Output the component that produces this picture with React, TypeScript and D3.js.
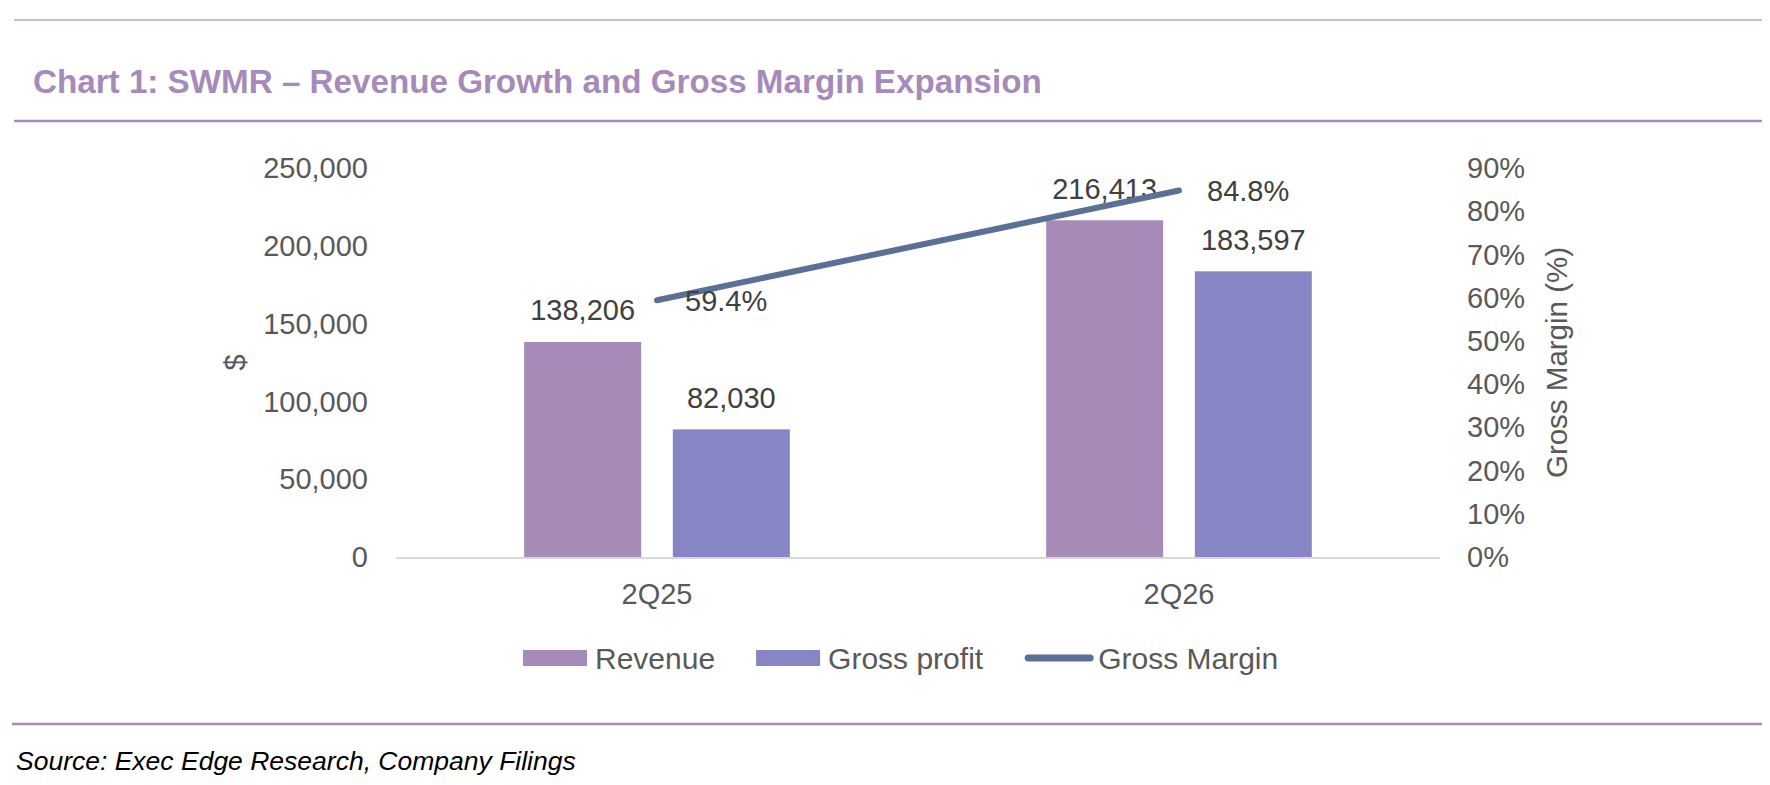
import React, { useRef, useEffect } from 'react';
import * as d3 from 'd3';

// Chart data
const categories = ['2Q25', '2Q26'];
const revenue = [138206, 216413];
const grossProfit = [82030, 183597];
const grossMargin = [59.4, 84.8]; // %

const leftTicks = [0, 50000, 100000, 150000, 200000, 250000];
const rightTicks = [0, 10, 20, 30, 40, 50, 60, 70, 80, 90];

const seriesNames = ['Revenue', 'Gross profit'];
const legendNames = ['Revenue', 'Gross profit', 'Gross Margin'];

const TITLE = 'Chart 1: SWMR \u2013 Revenue Growth and Gross Margin Expansion';
const SOURCE = 'Source: Exec Edge Research, Company Filings';

const W = 1770;
const H = 785;
const FONT = '"Liberation Sans", Arial, sans-serif';

const COLORS = {
  revenue: '#A68BB8',
  grossProfit: '#8785C4',
  line: '#5B7096',
  purple: '#A68BBA',
  axisText: '#595959',
  label: '#404040',
  axisLine: '#D9D9D9',
};

const SWMRChart: React.FC = () => {
  const svgRef = useRef<SVGSVGElement | null>(null);

  useEffect(() => {
    if (!svgRef.current) return;

    const plot = { left: 396, right: 1440, top: 168, bottom: 557 };

    d3.select(svgRef.current).selectAll('*').remove();
    const svg = d3.select(svgRef.current)
      .attr('width', W)
      .attr('height', H)
      .style('font-family', FONT);

    // Frame lines
    svg.append('line')
      .attr('x1', 14).attr('x2', 1762).attr('y1', 20).attr('y2', 20)
      .attr('stroke', '#B9A6CC').attr('stroke-width', 1.5);
    svg.append('line')
      .attr('x1', 14).attr('x2', 1762).attr('y1', 121).attr('y2', 121)
      .attr('stroke', COLORS.purple).attr('stroke-width', 2.5);
    svg.append('line')
      .attr('x1', 12).attr('x2', 1762).attr('y1', 724).attr('y2', 724)
      .attr('stroke', COLORS.purple).attr('stroke-width', 2.5);

    // Title
    svg.append('text')
      .attr('x', 33)
      .attr('y', 93)
      .attr('fill', COLORS.purple)
      .attr('font-size', '33.2px')
      .attr('font-weight', 'bold')
      .text(TITLE);

    // Source
    svg.append('text')
      .attr('x', 16)
      .attr('y', 770)
      .attr('fill', '#000')
      .attr('font-size', '26.5px')
      .attr('font-style', 'italic')
      .text(SOURCE);

    // Scales
    const x0 = d3.scaleBand<string>()
      .domain(categories)
      .range([plot.left, plot.right])
      .paddingInner(0)
      .paddingOuter(0);

    const x1 = d3.scaleBand<string>()
      .domain(seriesNames)
      .range([0, x0.bandwidth()])
      .paddingInner(0.213)
      .paddingOuter(0.862);

    const yLeft = d3.scaleLinear()
      .domain([0, 250000])
      .range([plot.bottom, plot.top]);

    const yRight = d3.scaleLinear()
      .domain([0, 90])
      .range([plot.bottom, plot.top]);

    const fmt = d3.format(',');

    // Left axis labels
    svg.append('g')
      .selectAll('text')
      .data(leftTicks)
      .enter()
      .append('text')
      .attr('x', 368)
      .attr('y', d => yLeft(d))
      .attr('dy', '0.35em')
      .attr('text-anchor', 'end')
      .attr('fill', COLORS.axisText)
      .attr('font-size', '29px')
      .text(d => fmt(d));

    // Right axis labels
    svg.append('g')
      .selectAll('text')
      .data(rightTicks)
      .enter()
      .append('text')
      .attr('x', 1467)
      .attr('y', d => yRight(d))
      .attr('dy', '0.35em')
      .attr('text-anchor', 'start')
      .attr('fill', COLORS.axisText)
      .attr('font-size', '29px')
      .text(d => `${d}%`);

    // Axis titles
    svg.append('text')
      .attr('transform', `translate(235,${(plot.top + plot.bottom) / 2}) rotate(-90)`)
      .attr('text-anchor', 'middle')
      .attr('dy', '0.35em')
      .attr('fill', COLORS.axisText)
      .attr('font-size', '29px')
      .text('$');

    svg.append('text')
      .attr('transform', `translate(1557,${(plot.top + plot.bottom) / 2}) rotate(-90)`)
      .attr('text-anchor', 'middle')
      .attr('dy', '0.35em')
      .attr('fill', COLORS.axisText)
      .attr('font-size', '29.5px')
      .text('Gross Margin (%)');

    // Bars
    const g = svg.append('g');
    categories.forEach((cat, i) => {
      const vals = [revenue[i], grossProfit[i]];
      const cols = [COLORS.revenue, COLORS.grossProfit];
      vals.forEach((v, j) => {
        const bx = (x0(cat) || 0) + (x1(seriesNames[j]) || 0);
        g.append('rect')
          .attr('x', bx)
          .attr('y', yLeft(v))
          .attr('width', x1.bandwidth())
          .attr('height', yLeft(0) - yLeft(v))
          .attr('fill', cols[j]);
        g.append('text')
          .attr('x', bx + x1.bandwidth() / 2)
          .attr('y', yLeft(v) - 21.5)
          .attr('text-anchor', 'middle')
          .attr('fill', COLORS.label)
          .attr('font-size', '29px')
          .text(fmt(v));
      });
    });

    // X axis line
    svg.append('line')
      .attr('x1', plot.left)
      .attr('x2', plot.right)
      .attr('y1', plot.bottom + 1)
      .attr('y2', plot.bottom + 1)
      .attr('stroke', COLORS.axisLine)
      .attr('stroke-width', 2);

    // Category labels
    svg.append('g')
      .selectAll('text')
      .data(categories)
      .enter()
      .append('text')
      .attr('x', d => (x0(d) || 0) + x0.bandwidth() / 2)
      .attr('y', 604)
      .attr('text-anchor', 'middle')
      .attr('fill', COLORS.axisText)
      .attr('font-size', '29px')
      .text(d => d);

    // Gross margin line
    const marginPts = categories.map((c, i) => ({ c, v: grossMargin[i] }));
    const line = d3.line<{ c: string; v: number }>()
      .x(d => (x0(d.c) || 0) + x0.bandwidth() / 2)
      .y(d => yRight(d.v));

    svg.append('path')
      .datum(marginPts)
      .attr('fill', 'none')
      .attr('stroke', COLORS.line)
      .attr('stroke-width', 6)
      .attr('stroke-linecap', 'round')
      .attr('d', line);

    svg.append('g')
      .selectAll('text')
      .data(marginPts)
      .enter()
      .append('text')
      .attr('x', d => (x0(d.c) || 0) + x0.bandwidth() / 2 + 28)
      .attr('y', d => yRight(d.v) + 10.5)
      .attr('text-anchor', 'start')
      .attr('fill', COLORS.label)
      .attr('font-size', '29px')
      .text(d => `${d.v.toFixed(1)}%`);

    // Legend
    const legend = svg.append('g');
    let lx = 523;
    const ly = 658;
    legendNames.forEach((name, i) => {
      if (i < 2) {
        legend.append('rect')
          .attr('x', lx)
          .attr('y', ly - 8)
          .attr('width', 64)
          .attr('height', 16)
          .attr('fill', i === 0 ? COLORS.revenue : COLORS.grossProfit);
      } else {
        legend.append('line')
          .attr('x1', lx + 4)
          .attr('x2', lx + 66)
          .attr('y1', ly)
          .attr('y2', ly)
          .attr('stroke', COLORS.line)
          .attr('stroke-width', 7)
          .attr('stroke-linecap', 'round');
      }
      const tx = lx + (i < 2 ? 72 : 74);
      const t = legend.append('text')
        .attr('x', tx)
        .attr('y', ly)
        .attr('dy', '0.35em')
        .attr('fill', COLORS.axisText)
        .attr('font-size', '30px')
        .text(name);
      const tw = (t.node() as SVGTextElement).getComputedTextLength();
      lx = tx + tw + 41;
    });
  }, []);

  return <svg ref={svgRef} style={{ display: 'block' }} />;
};

export default function App() {
  return (
    <div style={{ position: 'absolute', left: 0, top: 0, background: '#fff' }}>
      <SWMRChart />
    </div>
  );
}
